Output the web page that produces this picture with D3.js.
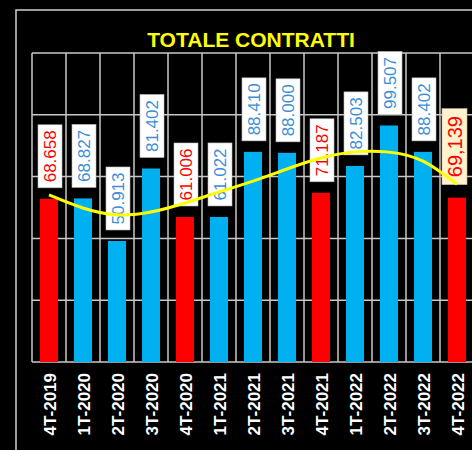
<!DOCTYPE html>
<html>
<head>
<meta charset="utf-8">
<script src="https://cdn.jsdelivr.net/npm/d3@7"></script>
<style>
  html, body { margin: 0; padding: 0; background: #000; }
  svg { display: block; font-family: "Liberation Sans", Arial, sans-serif; }
</style>
</head>
<body>
<svg id="chart"></svg>
<script>
// dati
const quarters = ["4T-2019", "1T-2020", "2T-2020", "3T-2020", "4T-2020", "1T-2021", "2T-2021",
  "3T-2021", "4T-2021", "1T-2022", "2T-2022", "3T-2022", "4T-2022"];
const contracts = [68658, 68827, 50913, 81402, 61006, 61022, 88410, 88000, 71187, 82503, 99507, 88402, 69139];
const valueLabels = ["68.658", "68.827", "50.913", "81.402", "61.006", "61.022", "88.410",
  "88.000", "71.187", "82.503", "99.507", "88.402", "69,139"];
// trimestri di fine anno (barre rosse)
const isQ4 = [true, false, false, false, true, false, false, false, true, false, false, false, true];
// linea di tendenza (gialla)
const trend = [70300, 64800, 61900, 63100, 66900, 71500, 76100, 81200, 85800, 88400, 88300, 84500, 74800];
const yTicks = [0, 26000, 52000, 78000, 104000, 130000];

const W = 472, H = 450;
const plot = { left: 32, top: 53, right: 474, bottom: 362 };

const svg = d3.select("#chart").attr("width", W).attr("height", H);

// bordo esterno
svg.append("rect")
  .attr("x", 16).attr("y", 10)
  .attr("width", W).attr("height", H)
  .attr("fill", "none")
  .attr("stroke", "#d0d0d0")
  .attr("stroke-width", 1.5);

const x = d3.scaleBand()
  .domain(quarters)
  .range([plot.left, plot.right])
  .paddingInner(0.47)
  .paddingOuter(0.235);

const y = d3.scaleLinear()
  .domain([0, 130000])
  .range([plot.bottom, plot.top]);

const step = x.step();
const lastIdx = quarters.length - 1;

// griglia
const grid = svg.append("g").attr("stroke", "#c8c8c8").attr("stroke-width", 1.5);
grid.selectAll(".h")
  .data(yTicks)
  .enter().append("line")
  .attr("x1", plot.left).attr("x2", plot.right)
  .attr("y1", d => y(d)).attr("y2", d => y(d));
grid.selectAll(".v")
  .data(d3.range(quarters.length + 1))
  .enter().append("line")
  .attr("x1", i => plot.left + i * step).attr("x2", i => plot.left + i * step)
  .attr("y1", plot.top).attr("y2", plot.bottom);

// barre
svg.append("g").selectAll("rect")
  .data(quarters)
  .enter().append("rect")
  .attr("x", d => x(d))
  .attr("y", (d, i) => y(contracts[i]))
  .attr("width", x.bandwidth())
  .attr("height", (d, i) => y(0) - y(contracts[i]))
  .attr("fill", (d, i) => isQ4[i] ? "#ff0000" : "#00b0f0");

// etichette valori
const labels = svg.append("g").selectAll("g")
  .data(quarters)
  .enter().append("g")
  .attr("transform", (d, i) => {
    const last = i === lastIdx;
    const cx = x(d) + x.bandwidth() / 2 + (last ? -2.5 : 1);
    const cy = y(contracts[i]) - (last ? 13 + 38 : 11 + 31.5);
    return `translate(${cx},${cy})`;
  });

labels.append("rect")
  .attr("x", (d, i) => i === lastIdx ? -12.5 : -12)
  .attr("y", (d, i) => i === lastIdx ? -38 : -31.5)
  .attr("width", (d, i) => i === lastIdx ? 25 : 24)
  .attr("height", (d, i) => i === lastIdx ? 76 : 63)
  .attr("fill", (d, i) => i === lastIdx ? "#fff2cc" : "#ffffff")
  .attr("stroke", "#bdbdbd")
  .attr("stroke-width", 0.6);

labels.append("text")
  .attr("transform", "rotate(-90)")
  .attr("text-anchor", "middle")
  .attr("dy", "0.36em")
  .style("font-size", (d, i) => i === lastIdx ? "20px" : "17px")
  .attr("fill", (d, i) => isQ4[i] ? "#ff0000" : "#3b8fd6")
  .text((d, i) => valueLabels[i]);

// linea di tendenza
const trendLine = d3.line()
  .x((d, i) => x(quarters[i]) + x.bandwidth() / 2)
  .y(d => y(d))
  .curve(d3.curveNatural);

svg.append("path")
  .attr("d", trendLine(trend))
  .attr("fill", "none")
  .attr("stroke", "#ffff00")
  .attr("stroke-width", 3);

// etichette asse x
svg.append("g").selectAll("text")
  .data(quarters)
  .enter().append("text")
  .attr("transform", d => `translate(${x(d) + x.bandwidth() / 2 + 1},373) rotate(-90)`)
  .attr("text-anchor", "end")
  .attr("dy", "0.36em")
  .attr("fill", "#ffffff")
  .style("font-size", "17px")
  .style("font-weight", "bold")
  .text(d => d);

// titolo
svg.append("text")
  .attr("x", 251)
  .attr("y", 47)
  .attr("text-anchor", "middle")
  .attr("fill", "#ffff00")
  .style("font-size", "21px")
  .style("font-weight", "bold")
  .text("TOTALE CONTRATTI");
</script>
</body>
</html>
